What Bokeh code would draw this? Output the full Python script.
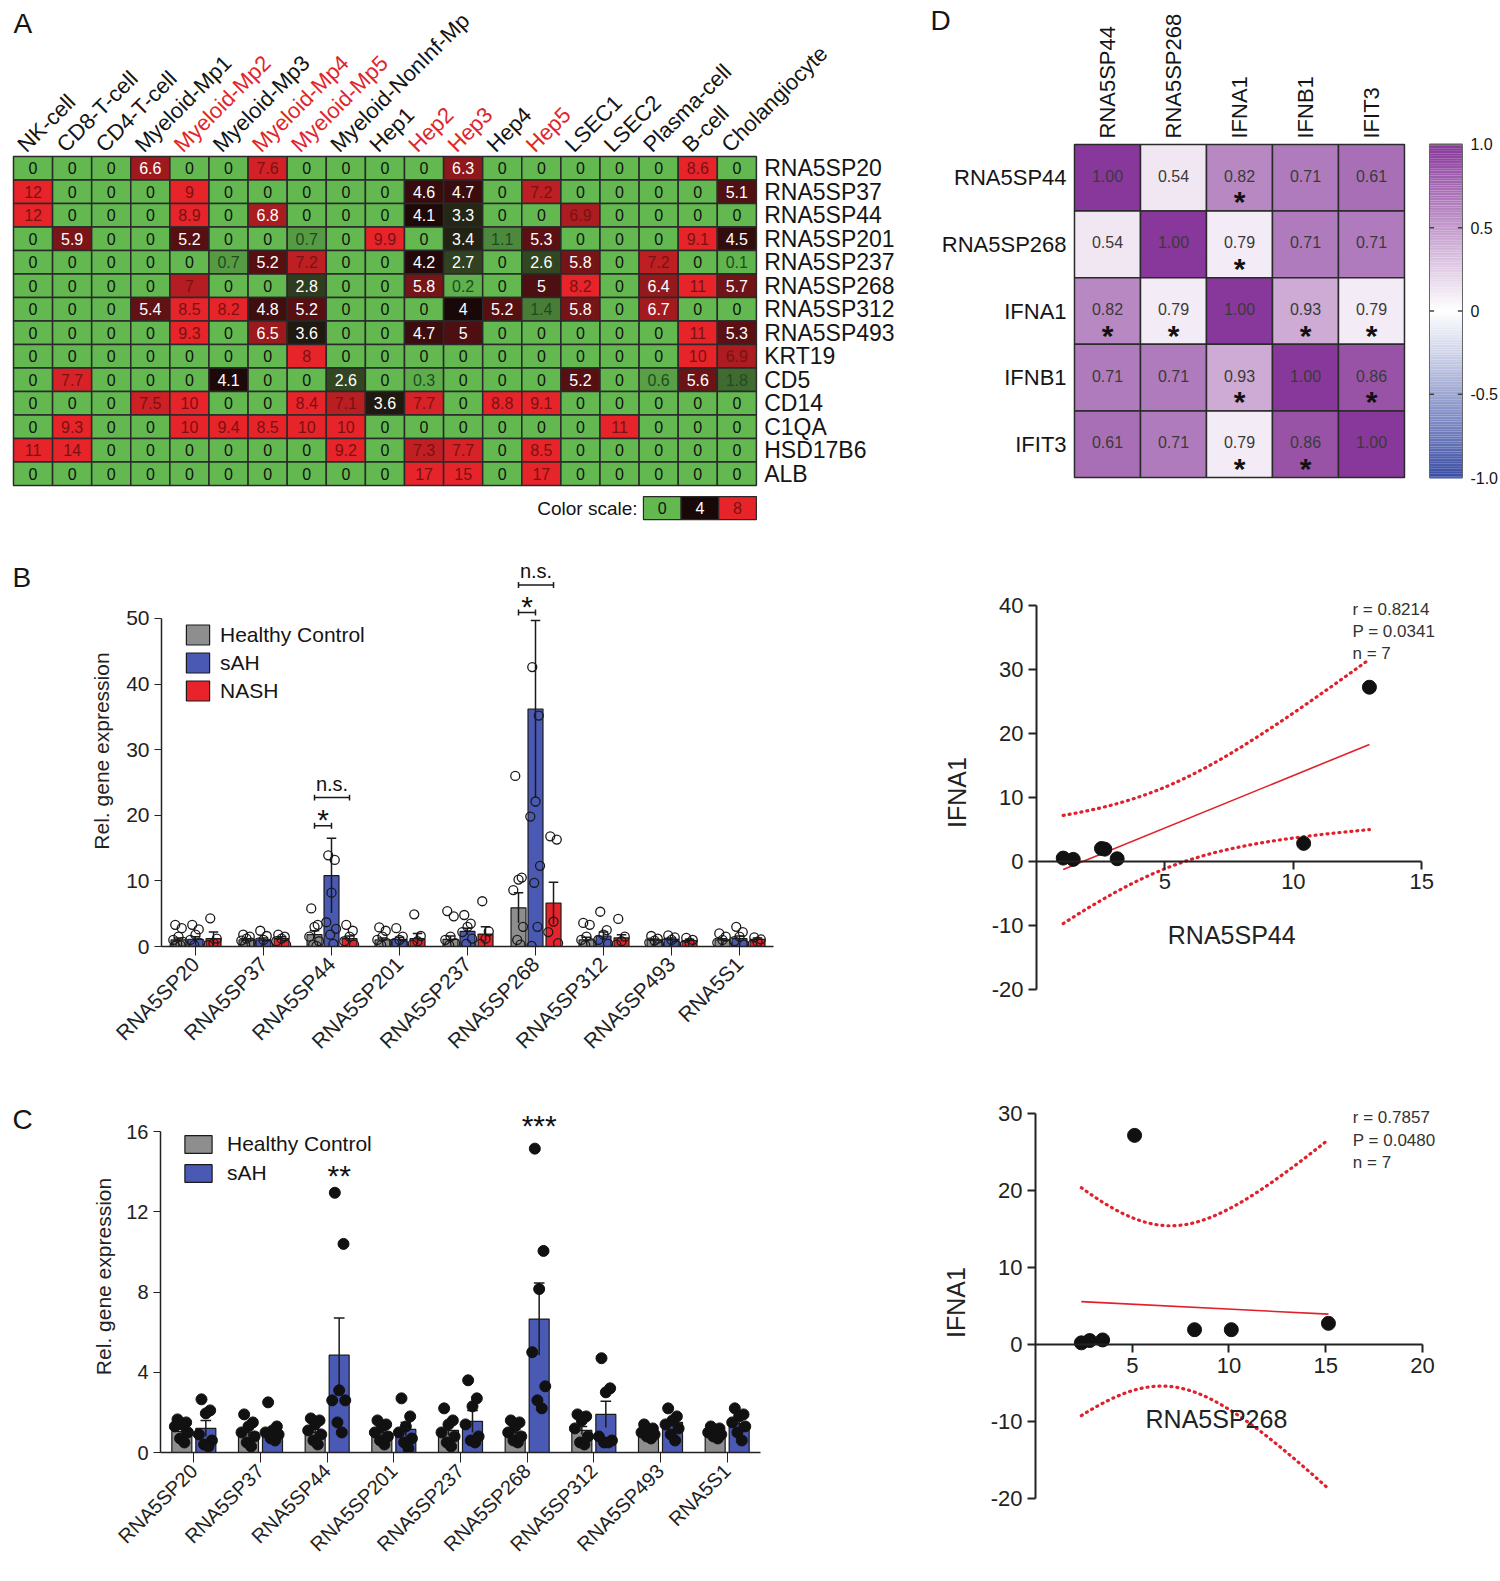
import numpy as np
from bokeh.plotting import figure
from bokeh.layouts import column, row
from bokeh.models import (Range1d, FactorRange, Legend, LegendItem,
                          LinearColorMapper, FixedTicker, ColumnDataSource)
from bokeh.core.properties import value
from bokeh.embed import file_html
from bokeh.resources import INLINE

FONT = "Liberation Sans"
F = value(FONT)

# ===================== DATA =====================
# ---- Panel A: expression heatmap
cell_types = ["NK-cell", "CD8-T-cell", "CD4-T-cell", "Myeloid-Mp1", "Myeloid-Mp2",
              "Myeloid-Mp3", "Myeloid-Mp4", "Myeloid-Mp5", "Myeloid-NonInf-Mp", "Hep1",
              "Hep2", "Hep3", "Hep4", "Hep5", "LSEC1", "LSEC2", "Plasma-cell", "B-cell",
              "Cholangiocyte"]
highlighted_cell_types = ["Myeloid-Mp2", "Myeloid-Mp4", "Myeloid-Mp5", "Hep2", "Hep3", "Hep5"]
genes_A = ["RNA5SP20", "RNA5SP37", "RNA5SP44", "RNA5SP201", "RNA5SP237", "RNA5SP268",
           "RNA5SP312", "RNA5SP493", "KRT19", "CD5", "CD14", "C1QA", "HSD17B6", "ALB"]
expr_A = [
    [0, 0, 0, 6.6, 0, 0, 7.6, 0, 0, 0, 0, 6.3, 0, 0, 0, 0, 0, 8.6, 0],
    [12, 0, 0, 0, 9, 0, 0, 0, 0, 0, 4.6, 4.7, 0, 7.2, 0, 0, 0, 0, 5.1],
    [12, 0, 0, 0, 8.9, 0, 6.8, 0, 0, 0, 4.1, 3.3, 0, 0, 6.9, 0, 0, 0, 0],
    [0, 5.9, 0, 0, 5.2, 0, 0, 0.7, 0, 9.9, 0, 3.4, 1.1, 5.3, 0, 0, 0, 9.1, 4.5],
    [0, 0, 0, 0, 0, 0.7, 5.2, 7.2, 0, 0, 4.2, 2.7, 0, 2.6, 5.8, 0, 7.2, 0, 0.1],
    [0, 0, 0, 0, 7, 0, 0, 2.8, 0, 0, 5.8, 0.2, 0, 5, 8.2, 0, 6.4, 11, 5.7],
    [0, 0, 0, 5.4, 8.5, 8.2, 4.8, 5.2, 0, 0, 0, 4, 5.2, 1.4, 5.8, 0, 6.7, 0, 0],
    [0, 0, 0, 0, 9.3, 0, 6.5, 3.6, 0, 0, 4.7, 5, 0, 0, 0, 0, 0, 11, 5.3],
    [0, 0, 0, 0, 0, 0, 0, 8, 0, 0, 0, 0, 0, 0, 0, 0, 0, 10, 6.9],
    [0, 7.7, 0, 0, 0, 4.1, 0, 0, 2.6, 0, 0.3, 0, 0, 0, 5.2, 0, 0.6, 5.6, 1.8],
    [0, 0, 0, 7.5, 10, 0, 0, 8.4, 7.1, 3.6, 7.7, 0, 8.8, 9.1, 0, 0, 0, 0, 0],
    [0, 9.3, 0, 0, 10, 9.4, 8.5, 10, 10, 0, 0, 0, 0, 0, 0, 11, 0, 0, 0],
    [11, 14, 0, 0, 0, 0, 0, 0, 9.2, 0, 7.3, 7.7, 0, 8.5, 0, 0, 0, 0, 0],
    [0, 0, 0, 0, 0, 0, 0, 0, 0, 0, 17, 15, 0, 17, 0, 0, 0, 0, 0],
]
color_scale_values = [0, 4, 8]

# ---- Panel D: correlation matrix
genes_D = ["RNA5SP44", "RNA5SP268", "IFNA1", "IFNB1", "IFIT3"]
corr_D = [
    [1.00, 0.54, 0.82, 0.71, 0.61],
    [0.54, 1.00, 0.79, 0.71, 0.71],
    [0.82, 0.79, 1.00, 0.93, 0.79],
    [0.71, 0.71, 0.93, 1.00, 0.86],
    [0.61, 0.71, 0.79, 0.86, 1.00],
]
shade_D = [  # colour position of each cell on the -1..1 scale
    [1.00, 0.12, 0.60, 0.66, 0.72],
    [0.12, 1.00, 0.10, 0.66, 0.66],
    [0.60, 0.10, 1.00, 0.42, 0.10],
    [0.66, 0.66, 0.42, 1.00, 0.86],
    [0.72, 0.66, 0.10, 0.86, 1.00],
]
signif_D = [
    [0, 0, 1, 0, 0],
    [0, 0, 1, 0, 0],
    [1, 1, 0, 1, 1],
    [0, 0, 1, 0, 1],
    [0, 0, 1, 1, 0],
]
colorbar_ticks = [1.0, 0.5, 0.0, -0.5, -1.0]
colorbar_tick_labels = ["1.0", "0.5", "0", "-0.5", "-1.0"]

# ---- Panel B: three groups
genes_B = ["RNA5SP20", "RNA5SP37", "RNA5SP44", "RNA5SP201", "RNA5SP237",
           "RNA5SP268", "RNA5SP312", "RNA5SP493", "RNA5S1"]
mean_B_hc = [1.0, 1.0, 1.8, 1.0, 1.1, 5.9, 1.0, 1.0, 1.0]
sem_B_hc = [0.3, 0.2, 0.6, 0.3, 0.5, 2.3, 0.4, 0.15, 0.2]
mean_B_sah = [1.1, 1.0, 10.8, 1.1, 2.3, 36.2, 1.6, 1.1, 1.2]
sem_B_sah = [0.4, 0.3, 5.7, 0.3, 0.5, 13.5, 0.6, 0.2, 0.4]
mean_B_nash = [1.2, 1.2, 1.2, 1.2, 1.9, 6.6, 1.3, 0.9, 1.1]
sem_B_nash = [1.0, 0.3, 0.4, 0.8, 1.1, 3.2, 0.5, 0.2, 0.2]
pts_B_hc = [
    [3.3, 2.8, 1.5, 1.0, 0.7, 0.4, 0.2, 0.1],
    [1.8, 1.5, 1.2, 0.9, 0.6, 0.3],
    [5.8, 3.3, 3.0, 1.5, 0.8, 0.3, 0.1],
    [2.9, 2.4, 1.5, 1.0, 0.5, 0.2],
    [5.4, 4.6, 1.5, 1.0, 0.5, 0.2],
    [26.0, 10.5, 10.2, 8.6, 3.0, 1.0, 0.3],
    [3.6, 3.3, 1.5, 1.0, 0.5, 0.2],
    [1.6, 1.2, 0.9, 0.6, 0.3],
    [2.0, 1.5, 1.0, 0.6, 0.3],
]
pts_B_sah = [
    [3.3, 2.6, 1.8, 1.0, 0.5, 0.2],
    [2.4, 1.6, 1.0, 0.6, 0.2],
    [13.9, 13.2, 8.2, 3.7, 2.7, 1.8, 0.4],
    [2.8, 1.5, 1.0, 0.5, 0.2],
    [4.8, 3.5, 3.0, 2.2, 1.2, 0.4],
    [42.6, 35.2, 22.1, 19.8, 12.3, 9.7, 3.0, 0.1],
    [5.3, 2.5, 1.8, 1.0, 0.4],
    [1.7, 1.4, 1.0, 0.6, 0.2],
    [3.0, 2.2, 1.5, 0.8, 0.3],
]
pts_B_nash = [
    [4.3, 1.2, 0.5, 0.2],
    [1.8, 1.5, 1.2, 0.8, 0.3],
    [3.3, 2.4, 1.5, 0.8, 0.3],
    [4.9, 1.6, 0.8, 0.3],
    [6.9, 2.3, 1.2, 0.4],
    [16.8, 16.3, 3.8, 2.2, 0.5],
    [4.2, 1.5, 0.8, 0.3],
    [1.3, 1.0, 0.6, 0.2],
    [1.4, 1.1, 0.7, 0.3],
]
sig_B_gene = ["RNA5SP44", "RNA5SP44", "RNA5SP268", "RNA5SP268"]
sig_B_from = [0, 0, 0, 0]      # index of group (0 = HC)
sig_B_to = [1, 2, 1, 2]        # 1 = sAH, 2 = NASH
sig_B_y = [18.4, 22.7, 50.9, 55.1]
sig_B_text = ["*", "n.s.", "*", "n.s."]

# ---- Panel C: two groups
genes_C = genes_B
mean_C_hc = [1.05, 1.0, 1.0, 1.0, 1.1, 1.0, 1.1, 0.95, 0.95]
sem_C_hc = [0.15, 0.2, 0.15, 0.12, 0.25, 0.15, 0.2, 0.1, 0.08]
mean_C_sah = [1.2, 1.0, 4.85, 1.15, 1.55, 6.65, 1.9, 1.5, 1.45]
sem_C_sah = [0.4, 0.15, 1.85, 0.35, 0.55, 1.8, 0.65, 0.2, 0.2]
pts_C_hc = [
    [1.65, 1.5, 1.4, 1.3, 1.0, 0.7, 0.5],
    [1.9, 1.5, 1.3, 1.0, 0.8, 0.5, 0.3],
    [1.7, 1.6, 1.4, 1.1, 0.9, 0.6, 0.4],
    [1.6, 1.4, 1.3, 1.0, 0.8, 0.6, 0.4],
    [2.2, 1.6, 1.4, 1.0, 0.8, 0.5, 0.3],
    [1.6, 1.5, 1.3, 1.0, 0.8, 0.6, 0.5],
    [1.9, 1.8, 1.6, 1.2, 0.8, 0.5, 0.4],
    [1.4, 1.2, 1.1, 1.0, 0.9, 0.8, 0.7],
    [1.3, 1.2, 1.1, 1.0, 0.9, 0.8, 0.7],
]
pts_C_sah = [
    [2.65, 2.1, 1.95, 0.9, 0.6, 0.4, 0.3],
    [2.5, 1.3, 1.1, 1.0, 0.9, 0.7, 0.6],
    [12.95, 10.4, 3.1, 2.6, 2.6, 1.5, 1.0],
    [2.7, 1.8, 1.3, 1.0, 0.7, 0.5, 0.2],
    [3.6, 2.7, 2.3, 1.4, 0.8, 0.6, 0.5],
    [15.15, 10.05, 8.15, 5.0, 3.3, 2.6, 2.2],
    [4.7, 3.2, 3.0, 0.8, 0.6, 0.5, 0.5],
    [2.2, 1.8, 1.6, 1.4, 1.2, 0.9, 0.6],
    [2.2, 1.9, 1.8, 1.5, 1.3, 1.0, 0.6],
]
sig_C_gene = ["RNA5SP44", "RNA5SP268"]
sig_C_y = [14.1, 16.6]
sig_C_text = ["**", "***"]

# ---- Correlation scatters
x_rna5sp44 = [1.04, 1.43, 2.53, 2.66, 3.14, 10.4, 12.96]
y_ifna1_a = [0.5, 0.3, 2.0, 1.9, 0.4, 2.8, 27.2]
stats_1 = "r = 0.8214\nP = 0.0341\nn = 7"
x_rna5sp268 = [2.37, 2.8, 3.47, 5.12, 8.22, 10.12, 15.14]
y_ifna1_b = [0.26, 0.56, 0.64, 27.2, 1.97, 1.97, 2.79]
stats_2 = "r = 0.7857\nP = 0.0480\nn = 7"
T_CRIT_DF5 = 2.5706  # two-sided 95 % t quantile, 5 d.f.

# ===================== HELPERS =====================
def make_palette(stops, n=256):
    pos = np.array([s[0] for s in stops], float)
    cols = np.array([s[1] for s in stops], float)
    out = []
    for t in np.linspace(pos[0], pos[-1], n):
        c = [int(round(np.interp(t, pos, cols[:, k]))) for k in range(3)]
        out.append("#%02x%02x%02x" % tuple(c))
    return out


def fmt(v):
    return "%g" % v


def base_fig(w, h, xr, yr, **kw):
    p = figure(width=w, height=h, x_range=xr, y_range=yr, output_backend="svg",
               toolbar_location=None, **kw)
    p.title_location = None
    p.outline_line_color = None
    p.grid.visible = False
    p.background_fill_color = "white"
    p.border_fill_color = "white"
    return p


def letter_fig(h, letter, top):
    p = base_fig(40, h, Range1d(0, 40), Range1d(h, 0), min_border=0)
    p.axis.visible = False
    p.text(x=[12], y=[top], text=[letter], text_align="left", text_baseline="top",
           text_font=F, text_font_size="28px", text_color="#151515")
    return p


def style_axes(p, fs):
    for ax in (p.xaxis[0], p.yaxis[0]):
        ax.axis_line_color = "#222222"
        ax.major_tick_line_color = "#222222"
        ax.minor_tick_line_color = None
        ax.major_label_text_font = FONT
        ax.major_label_text_font_size = fs
        ax.major_label_text_color = "#222222"
        ax.axis_label_text_font = FONT
        ax.axis_label_text_font_style = "normal"
        ax.axis_label_text_color = "#222222"
        ax.major_tick_in = 0


# ===================== PANEL A =====================
pal_A = make_palette([(0, (99, 185, 80)), (4, (24, 8, 8)), (8, (230, 36, 42))])
mapper_A = LinearColorMapper(palette=pal_A, low=0, high=8, high_color=pal_A[-1])

pA = base_fig(908, 553, Range1d(-0.332, 22.89), Range1d(16.894, -6.638), min_border=0)
pA.axis.visible = False

ax_, ay_, av_, al_, atc_ = [], [], [], [], []
for r, g in enumerate(genes_A):
    for c, ct in enumerate(cell_types):
        v = expr_A[r][c]
        ax_.append(c + 0.5)
        ay_.append(r + 0.5)
        av_.append(v)
        al_.append(fmt(v))
        if v == 0:
            atc_.append("#111111")
        elif v < 2:
            atc_.append("#1d4d1d")
        elif v < 6.85:
            atc_.append("#ffffff")
        else:
            atc_.append("#7a1212")
srcA = ColumnDataSource(dict(x=ax_, y=ay_, v=av_, label=al_, tc=atc_))
pA.rect("x", "y", width=1, height=1, source=srcA,
        fill_color={"field": "v", "transform": mapper_A},
        line_color="#2a2a2a", line_width=1.5)
pA.text("x", "y", text="label", source=srcA, text_color="tc", text_align="center",
        text_baseline="middle", text_font=F, text_font_size="16px")

pA.text(x=[c + 0.2 for c in range(len(cell_types))], y=[-0.35] * len(cell_types),
        text=cell_types, angle=np.pi / 4, text_align="left", text_baseline="alphabetic",
        text_font=F, text_font_size="22px",
        text_color=["#e0262c" if ct in highlighted_cell_types else "#151515"
                    for ct in cell_types])
pA.text(x=[len(cell_types) + 0.2] * len(genes_A), y=[r + 0.5 for r in range(len(genes_A))],
        text=genes_A, text_align="left", text_baseline="middle", text_font=F,
        text_font_size="23px", text_color="#151515")

nA = len(cell_types)
key_w = 0.963
key_x = [nA - key_w * (len(color_scale_values) - i - 0.5) for i in range(len(color_scale_values))]
key_y = len(genes_A) + 0.96
srcK = ColumnDataSource(dict(x=key_x, y=[key_y] * 3, v=color_scale_values,
                             label=[fmt(v) for v in color_scale_values],
                             tc=["#111111", "#ffffff", "#7a1212"]))
pA.rect("x", "y", width=key_w, height=0.98, source=srcK,
        fill_color={"field": "v", "transform": mapper_A}, line_color="#2a2a2a", line_width=1.2)
pA.text("x", "y", text="label", source=srcK, text_color="tc", text_align="center",
        text_baseline="middle", text_font=F, text_font_size="16px")
pA.text(x=[key_x[0] - key_w / 2 - 0.15], y=[key_y], text=["Color scale:"],
        text_align="right", text_baseline="middle", text_font=F, text_font_size="19px",
        text_color="#151515")
pA.text(x=[0.0], y=[-6.3], text=["A"], text_align="left", text_baseline="top",
        text_font=F, text_font_size="28px", text_color="#151515")

# ===================== PANEL D =====================
pal_D = make_palette([(-1, (59, 78, 164)), (0, (255, 255, 255)), (1, (136, 56, 154))])
mapper_D = LinearColorMapper(palette=pal_D, low=-1, high=1)
nD = len(genes_D)
pD = base_fig(592, 553, Range1d(-2.515, 6.455), Range1d(6.141, -2.162), min_border=0)
pD.axis.visible = False

dx, dy, dv, dl, sx_, sy_ = [], [], [], [], [], []
for r in range(nD):
    for c in range(nD):
        dx.append(c + 0.5)
        dy.append(r + 0.5)
        dv.append(shade_D[r][c])
        dl.append("%.2f" % corr_D[r][c])
        if signif_D[r][c]:
            sx_.append(c + 0.5)
            sy_.append(r + 0.5)
srcD = ColumnDataSource(dict(x=dx, y=dy, v=dv, label=dl))
pD.rect("x", "y", width=1, height=1, source=srcD,
        fill_color={"field": "v", "transform": mapper_D}, line_color="#2a2a2a", line_width=1.5)
pD.text("x", "y", text="label", source=srcD, y_offset=-2, text_align="center",
        text_baseline="middle", text_font=F, text_font_size="16px", text_color="#3a3a3a")
pD.text(x=sx_, y=sy_, text=["*"] * len(sx_), y_offset=24, text_align="center",
        text_baseline="middle", text_font=F, text_font_size="30px", text_font_style="bold",
        text_color="#111111")
pD.text(x=[-0.12] * nD, y=[r + 0.5 for r in range(nD)], text=genes_D, text_align="right",
        text_baseline="middle", text_font=F, text_font_size="22px", text_color="#151515")
pD.text(x=[c + 0.5 for c in range(nD)], y=[-0.09] * nD, text=genes_D, angle=np.pi / 2,
        text_align="left", text_baseline="middle", text_font=F, text_font_size="22px",
        text_color="#151515")

cb_x0, cb_x1 = 5.379, 5.879
grad = np.linspace(-1, 1, 200)
srcCB = ColumnDataSource(dict(x=[(cb_x0 + cb_x1) / 2] * len(grad),
                              y=(1 - grad) / 2 * nD, v=grad))
pD.rect("x", "y", width=cb_x1 - cb_x0, height=nD / len(grad) * 1.05, source=srcCB,
        fill_color={"field": "v", "transform": mapper_D}, line_color=None)
pD.rect(x=[(cb_x0 + cb_x1) / 2], y=[nD / 2], width=cb_x1 - cb_x0, height=nD,
        fill_color=None, line_color="#666666", line_width=1)
tick_y = [(1 - t) / 2 * nD for t in colorbar_ticks]
pD.segment(x0=[cb_x0] * 3, y0=tick_y[1:4], x1=[cb_x0 + 0.07] * 3, y1=tick_y[1:4],
           line_color="#444444", line_width=1.5)
pD.segment(x0=[cb_x1 - 0.07] * 3, y0=tick_y[1:4], x1=[cb_x1] * 3, y1=tick_y[1:4],
           line_color="#444444", line_width=1.5)
pD.text(x=[cb_x1 + 0.12] * 5, y=tick_y, text=colorbar_tick_labels, text_align="left",
        text_baseline="middle", text_font=F, text_font_size="16px", text_color="#151515")
pD.text(x=[-2.18], y=[-2.1], text=["D"], text_align="left", text_baseline="top",
        text_font=F, text_font_size="28px", text_color="#151515")

# ===================== BAR PANELS =====================
GRAY = "#8e8e8e"
BLUE = "#4a59b4"
RED = "#e8232b"
JIT = [-0.05, 0.05, 0.0, -0.08, 0.07, -0.02, 0.03, -0.06]


def draw_group(p, means, sems, pts, off, width, color, pt_size, hollow, cap):
    xs = [i + 0.5 + off for i in range(len(means))]
    r = p.vbar(x=xs, top=means, width=width, fill_color=color, line_color="#1a1a1a",
               line_width=1.2)
    lo = [m - s for m, s in zip(means, sems)]
    hi = [m + s for m, s in zip(means, sems)]
    p.segment(x0=xs, y0=lo, x1=xs, y1=hi, line_color="#1a1a1a", line_width=1.5)
    p.segment(x0=[x - cap for x in xs], y0=hi, x1=[x + cap for x in xs], y1=hi,
              line_color="#1a1a1a", line_width=1.5)
    px, py = [], []
    for i, vals in enumerate(pts):
        for k, v in enumerate(vals):
            px.append(xs[i] + JIT[k % len(JIT)] * width / 0.23)
            py.append(v)
    if hollow:
        p.scatter(px, py, marker="circle", size=pt_size, fill_color=None,
                  line_color="#1a1a1a", line_width=1.3)
    else:
        p.scatter(px, py, marker="circle", size=pt_size, fill_color="#111111",
                  line_color="#111111")
    return r


# ---- B
pB = base_fig(868, 510, FactorRange(*genes_B), Range1d(0, 59.6),
              min_border_left=121, min_border_right=135, min_border_top=2,
              min_border_bottom=117)
offB = [-0.25, 0.0, 0.265]
rB = [draw_group(pB, mean_B_hc, sem_B_hc, pts_B_hc, offB[0], 0.22, GRAY, 9, True, 0.07),
      draw_group(pB, mean_B_sah, sem_B_sah, pts_B_sah, offB[1], 0.22, BLUE, 9, True, 0.07),
      draw_group(pB, mean_B_nash, sem_B_nash, pts_B_nash, offB[2], 0.22, RED, 9, True, 0.07)]
style_axes(pB, "21px")
pB.yaxis.ticker = FixedTicker(ticks=[0, 10, 20, 30, 40, 50])
pB.yaxis.bounds = (0, 50)
pB.yaxis.axis_label = "Rel. gene expression"
pB.yaxis.axis_label_text_font_size = "21px"
pB.yaxis.axis_label_standoff = 10
pB.yaxis.major_tick_out = 7
pB.xaxis.major_tick_out = 9
pB.xaxis.major_label_orientation = np.pi / 4
pB.axis.axis_line_width = 1.5
bx0, bx1, by, btx, btt = [], [], [], [], []
for g, a, b, y, t in zip(sig_B_gene, sig_B_from, sig_B_to, sig_B_y, sig_B_text):
    gi = genes_B.index(g)
    x0 = gi + 0.5 + offB[a]
    x1 = gi + 0.5 + offB[b]
    bx0.append(x0); bx1.append(x1); by.append(y)
    btx.append((x0 + x1) / 2); btt.append(t)
pB.segment(x0=bx0, y0=by, x1=bx1, y1=by, line_color="#1a1a1a", line_width=1.5)
pB.segment(x0=bx0, y0=[y - 0.45 for y in by], x1=bx0, y1=[y + 0.45 for y in by],
           line_color="#1a1a1a", line_width=1.5)
pB.segment(x0=bx1, y0=[y - 0.45 for y in by], x1=bx1, y1=[y + 0.45 for y in by],
           line_color="#1a1a1a", line_width=1.5)
star_i = [i for i, t in enumerate(btt) if t.startswith("*")]
ns_i = [i for i, t in enumerate(btt) if not t.startswith("*")]
pB.text(x=[btx[i] for i in star_i], y=[by[i] for i in star_i], text=[btt[i] for i in star_i],
        y_offset=-6, text_align="center", text_baseline="alphabetic", text_font=F,
        text_font_size="30px", text_color="#111111")
pB.text(x=[btx[i] for i in ns_i], y=[by[i] for i in ns_i], text=[btt[i] for i in ns_i],
        y_offset=-14, text_align="center", text_baseline="alphabetic", text_font=F,
        text_font_size="20px", text_color="#111111")
legB = Legend(items=[LegendItem(label="Healthy Control", renderers=[rB[0]]),
                     LegendItem(label="sAH", renderers=[rB[1]]),
                     LegendItem(label="NASH", renderers=[rB[2]])],
              location=(22, 243), glyph_width=29, glyph_height=25, label_height=20,
              spacing=3, padding=0, margin=0, label_standoff=8,
              label_text_font=FONT, label_text_font_size="21px", label_text_color="#151515",
              border_line_color=None, background_fill_alpha=0)
pB.add_layout(legB)

# ---- C
pC = base_fig(868, 510, FactorRange(*genes_C), Range1d(0, 17.55),
              min_border_left=120, min_border_right=148, min_border_top=37,
              min_border_bottom=121)
offC = [-0.18, 0.18]
rC = [draw_group(pC, mean_C_hc, sem_C_hc, pts_C_hc, offC[0], 0.3, GRAY, 11, False, 0.08),
      draw_group(pC, mean_C_sah, sem_C_sah, pts_C_sah, offC[1], 0.3, BLUE, 11, False, 0.08)]
style_axes(pC, "20px")
pC.yaxis.ticker = FixedTicker(ticks=[0, 4, 8, 12, 16])
pC.yaxis.bounds = (0, 16)
pC.yaxis.axis_label = "Rel. gene expression"
pC.yaxis.axis_label_text_font_size = "21px"
pC.yaxis.axis_label_standoff = 8
pC.yaxis.major_tick_out = 7
pC.xaxis.major_tick_out = 10
pC.xaxis.major_label_orientation = np.pi / 4
pC.axis.axis_line_width = 1.5
pC.text(x=[genes_C.index(g) + 0.5 + offC[1] for g in sig_C_gene], y=sig_C_y, text=sig_C_text,
        text_align="center", text_baseline="middle", y_offset=6, text_font=F,
        text_font_size="30px", text_color="#111111")
legC = Legend(items=[LegendItem(label="Healthy Control", renderers=[rC[0]]),
                     LegendItem(label="sAH", renderers=[rC[1]])],
              location=(21, 267), glyph_width=34, glyph_height=22, label_height=18,
              spacing=5, padding=0, margin=0, label_standoff=12,
              label_text_font=FONT, label_text_font_size="21px", label_text_color="#151515",
              border_line_color=None, background_fill_alpha=0)
pC.add_layout(legC)


# ===================== SCATTER PANELS =====================
def regression(p, x, y, stats_text, stats_xy, dash):
    x = np.asarray(x, float)
    y = np.asarray(y, float)
    n = len(x)
    slope, icpt = np.polyfit(x, y, 1)
    resid = y - (slope * x + icpt)
    s = np.sqrt(np.sum(resid ** 2) / (n - 2))
    sxx = np.sum((x - x.mean()) ** 2)
    xs = np.linspace(x.min(), x.max(), 80)
    fit = slope * xs + icpt
    half = T_CRIT_DF5 * s * np.sqrt(1.0 / n + (xs - x.mean()) ** 2 / sxx)
    p.line(xs, fit + half, line_color="#e0202a", line_width=3.2, line_dash=dash,
           line_cap="round")
    p.line(xs, fit - half, line_color="#e0202a", line_width=3.2, line_dash=dash,
           line_cap="round")
    p.line([xs[0], xs[-1]], [fit[0], fit[-1]], line_color="#e0202a", line_width=1.6)
    p.scatter(x, y, marker="circle", size=14, fill_color="#111111", line_color="#111111")
    p.text(x=[stats_xy[0]], y=[stats_xy[1]], text=[stats_text], text_align="left",
           text_baseline="top", text_font=F, text_font_size="17px", text_color="#333333",
           text_line_height=1.18)


def style_scatter(p, xticks, yticks, xb, yb, xlabel, xlabel_x):
    style_axes(p, "22px")
    p.axis.axis_line_width = 2
    p.axis.major_tick_line_width = 2
    p.axis.major_tick_out = 8
    p.xaxis.fixed_location = 0
    p.xaxis.ticker = FixedTicker(ticks=xticks)
    p.yaxis.ticker = FixedTicker(ticks=yticks)
    p.yaxis.major_label_overrides = {t: ("%d" % t) for t in yticks if t < 0}
    p.xaxis.bounds = xb
    p.yaxis.bounds = yb
    p.yaxis.axis_label = "IFNA1"
    p.yaxis.axis_label_text_font_size = "25px"
    p.yaxis.axis_label_standoff = 18
    p.text(x=[xlabel_x], y=[0], text=[xlabel], y_offset=74, text_align="center",
           text_baseline="middle", text_font=F, text_font_size="25px", text_color="#222222")


pS1 = base_fig(592, 510, Range1d(0, 16), Range1d(-20.5, 42),
               min_border_left=128, min_border_right=53, min_border_top=39,
               min_border_bottom=71)
regression(pS1, x_rna5sp44, y_ifna1_a, stats_1, (12.3, 40.9), "1 5")
style_scatter(pS1, [5, 10, 15], [-20, -10, 0, 10, 20, 30, 40], (0, 15), (-20, 40),
              "RNA5SP44", 7.6)

pS2 = base_fig(592, 510, Range1d(0, 21.5), Range1d(-20.6, 31.6),
               min_border_left=127, min_border_right=49, min_border_top=38,
               min_border_bottom=70)
regression(pS2, x_rna5sp268, y_ifna1_b, stats_2, (16.4, 30.7), "1 5")
style_scatter(pS2, [5, 10, 15, 20], [-20, -10, 0, 10, 20, 30], (0, 20), (-20, 30),
              "RNA5SP268", 9.35)

layout = column(row(column(pA), column(pD)),
                row(column(letter_fig(510, "B", 8)), column(pB), column(pS1)),
                row(column(letter_fig(510, "C", 40)), column(pC), column(pS2)))
open("out.html", "w").write(file_html(layout, INLINE))
